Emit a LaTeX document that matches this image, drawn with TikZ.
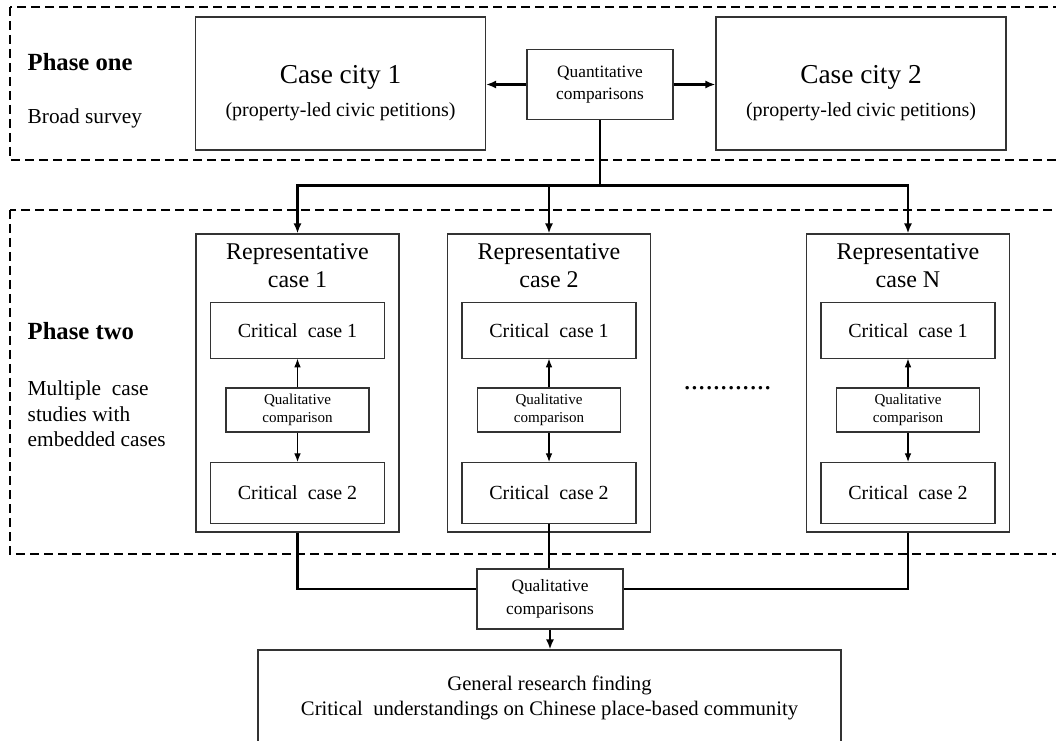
\documentclass[tikz,border=0pt]{standalone}
\usepackage{fontspec}
\setmainfont{Liberation Serif}
\usetikzlibrary{arrows.meta}

\begin{document}
\begin{tikzpicture}[x=0.75pt, y=-0.75pt,
	>={Latex[length=7.5pt,width=6pt]},
	box/.style={draw=black!80, line width=0.8pt, inner sep=0pt},
	phase/.style={line width=1.4pt, dash pattern=on 6.5pt off 4pt},
	conn/.style={line width=1.6pt},
	thinconn/.style={line width=0.8pt, >={Latex[length=6.5pt,width=5pt]}},
	lbl/.style={align=center, inner sep=0pt}]
	\useasboundingbox (0,0) rectangle (1056,741);
	\clip (0,0) rectangle (1056,741);
	
	%phase frames
	\draw[phase] (10,7) rectangle (1090,160);
	\draw[phase] (10,210) rectangle (1090,554);
	\node[anchor=west, font=\bfseries\fontsize{18.5}{22}\selectfont] (ph1) at (23,62) {Phase one};
	\node[anchor=west, font=\fontsize{16}{19}\selectfont] (ph1txt) at (23,118) {Broad survey};
	\node[anchor=west, font=\bfseries\fontsize{18.5}{22}\selectfont] (ph2) at (23,331) {Phase two};
	\node[anchor=west, align=left, font=\fontsize{16}{19}\selectfont] (ph2txt) at (23,414) {Multiple\ \ case\\studies with\\embedded cases};
	
	%phase one
	\node[box, minimum width=217.5pt, minimum height=99.75pt] (city1) at (340.5,83.5) {};
	\node[box, minimum width=217.5pt, minimum height=99.75pt] (city2) at (861,83.5) {};
	\node[lbl] (city1txt) at ([yshift=-7pt]city1.center) {\fontsize{20.5}{24}\selectfont Case city 1\\[9pt]\fontsize{15}{18}\selectfont (property-led civic petitions)};
	\node[lbl] (city2txt) at ([yshift=-7pt]city2.center) {\fontsize{20.5}{24}\selectfont Case city 2\\[9pt]\fontsize{15}{18}\selectfont (property-led civic petitions)};
	\node[box, align=center, minimum width=109.5pt, minimum height=52.5pt, font=\fontsize{13}{17}\selectfont] (quant) at (600,84.5) {Quantitative\\comparisons};
	\draw[conn, ->] (quant.west) -- (quant.west -| city1.east);
	\draw[conn, ->] (quant.east) -- (quant.east -| city2.west);
	
	%phase two
	\foreach \cx/\n/\lab in {297.5/1/1, 549/2/2, 908/3/N}{
		\node[box, minimum width=152.25pt, minimum height=223.5pt] (rep\n) at (\cx,383) {};
		\node[lbl, font=\fontsize{18}{21}\selectfont] (rept\n) at (\cx,266) {Representative\\case \lab};
		\node[box, minimum width=130.5pt, minimum height=41.5pt, font=\fontsize{15}{18}\selectfont] (ca\n) at (\cx,330.5) {Critical\ \ case 1};
		\node[box, align=center, minimum width=107.25pt, minimum height=33pt, font=\fontsize{11.3}{14}\selectfont] (qa\n) at (\cx,410) {Qualitative\\comparison};
		\node[box, minimum width=130.5pt, minimum height=45.75pt, font=\fontsize{15}{18}\selectfont] (cb\n) at (\cx,493) {Critical\ \ case 2};
		\draw[thinconn, ->] (qa\n) -- (ca\n);
		\draw[thinconn, ->] (qa\n) -- (cb\n);
	}
	\node[font=\fontsize{22}{24}\selectfont, inner sep=0pt] (dots) at (727.5,388) {............};
	
	%split to the representative cases
	\coordinate (split) at (600,185.5);
	\draw[conn] (quant.south) -- (split);
	\draw[conn, ->] (split) -| (rep1.north);
	\draw[conn, ->] (split) -| (rep2.north);
	\draw[conn, ->] (split) -| (rep3.north);
	
	%final comparison
	\node[box, align=center, minimum width=109.5pt, minimum height=45pt, font=\fontsize{13}{17}\selectfont] (qualB) at (550,599) {Qualitative\\comparisons};
	\node[box, align=center, minimum width=437.25pt, minimum height=71.25pt, font=\fontsize{15.5}{18.75}\selectfont] (general) at (549.5,697.5) {General research finding\\Critical\ \ understandings on Chinese place-based community};
	\draw[conn] (rep1.south) |- ([yshift=7.5pt]qualB.west);
	\draw[conn] (rep3.south) |- ([yshift=7.5pt]qualB.east);
	\draw[conn] (cb2.south) -- (cb2.south |- qualB.north);
	\draw[conn, ->] (qualB.south) -- (qualB.south |- general.north);
\end{tikzpicture}
\end{document}
